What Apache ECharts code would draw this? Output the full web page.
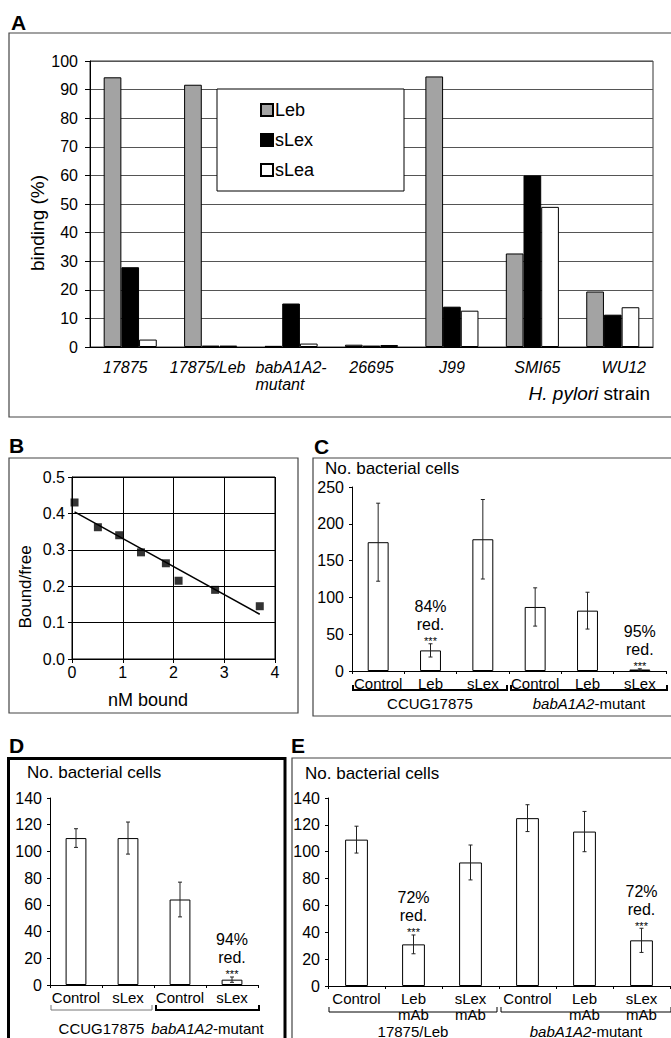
<!DOCTYPE html>
<html><head><meta charset="utf-8">
<script src="https://cdn.jsdelivr.net/npm/echarts@6/dist/echarts.min.js"></script>
<style>html,body{margin:0;padding:0;background:#fff}#c{width:671px;height:1038px}</style>
</head><body><div id="c"></div>
<script>
// ---------- Panel A data ----------
const strainsA = ['17875', '17875/Leb', 'babA1A2-\nmutant', '26695', 'J99', 'SMI65', 'WU12'];
const lebA  = [94.3, 91.7, 0.4, 0.8, 94.6, 32.7, 19.4];
const slexA = [27.9, 0.5, 15.2, 0.5, 14.1, 60.0, 11.3];
const sleaA = [2.6, 0.5, 1.2, 0.7, 12.7, 49.0, 13.9];
const ticksA = [0, 10, 20, 30, 40, 50, 60, 70, 80, 90, 100];
// ---------- Panel B data ----------
const nmBound   = [0.05, 0.51, 0.93, 1.36, 1.85, 2.10, 2.82, 3.70];
const boundFree = [0.430, 0.362, 0.340, 0.293, 0.263, 0.215, 0.190, 0.145];
const fitNm = [0.05, 3.70];
const fitBF = [0.404, 0.123];
// ---------- Panel C data ----------
const catsC = ['Control', 'Leb', 'sLex', 'Control', 'Leb', 'sLex'];
const meanC = [175, 28, 179, 87, 82, 2];
const errC  = [53, 9, 54, 26, 25, 1];
const annC  = ['', '84%\nred.', '', '', '', '95%\nred.'];
const groupsC = ['CCUG17875', 'babA1A2-mutant'];
// ---------- Panel D data ----------
const catsD = ['Control', 'sLex', 'Control', 'sLex'];
const meanD = [110, 110, 64, 4];
const errD  = [7, 12, 13, 2];
const annD  = ['', '', '', '94%\nred.'];
const groupsD = ['CCUG17875', 'babA1A2-mutant'];
// ---------- Panel E data ----------
const catsE = ['Control', 'Leb\nmAb', 'sLex\nmAb', 'Control', 'Leb\nmAb', 'sLex\nmAb'];
const meanE = [109, 31, 92, 125, 115, 34];
const errE  = [10, 7, 13, 10, 15, 9];
const annE  = ['', '72%\nred.', '', '', '', '72%\nred.'];
const groupsE = ['17875/Leb', 'babA1A2-mutant'];

const FONT = '"Liberation Sans", Arial, Helvetica, sans-serif';
const chart = echarts.init(document.getElementById('c'), null, {renderer: 'svg'});

function lbl(size, extra) { return Object.assign({color: '#000', fontFamily: FONT, fontSize: size}, extra || {}); }

function errSeries(xi, yi, mean, err, ann) {
  return {
    type: 'custom', xAxisIndex: xi, yAxisIndex: yi, z: 5,
    data: mean.map((m, i) => [i, m - err[i], m + err[i]]),
    renderItem: function (params, api) {
      const i = api.value(0);
      const top = api.coord([i, api.value(2)]);
      const bot = api.coord([i, api.value(1)]);
      const st = {stroke: '#222', lineWidth: 1};
      const ch = [
        {type: 'line', shape: {x1: top[0], y1: top[1], x2: bot[0], y2: bot[1]}, style: st},
        {type: 'line', shape: {x1: top[0] - 2, y1: top[1], x2: top[0] + 2, y2: top[1]}, style: st},
        {type: 'line', shape: {x1: bot[0] - 2, y1: bot[1], x2: bot[0] + 2, y2: bot[1]}, style: st}
      ];
      if (ann[i]) {
        ch.push({type: 'text', style: {text: ann[i], x: top[0], y: top[1] - 10, align: 'center', verticalAlign: 'bottom',
          fontSize: 16, fontFamily: FONT, lineHeight: 18, fill: '#000'}});
        ch.push({type: 'text', style: {text: '***', x: top[0], y: top[1] + 3, align: 'center', verticalAlign: 'bottom',
          fontSize: 11, fontFamily: FONT, fill: '#000'}});
      }
      return {type: 'group', children: ch};
    }
  };
}
function barSeries(xi, yi, mean) {
  return {type: 'bar', xAxisIndex: xi, yAxisIndex: yi, data: mean, barWidth: '40%',
    itemStyle: {color: '#fff', borderColor: '#000', borderWidth: 1}, silent: true};
}
function catAxis(gi, cats, fs) {
  return {type: 'category', gridIndex: gi, data: cats,
    axisLine: {lineStyle: {color: '#000', width: 1}},
    axisTick: {show: true, length: 3, lineStyle: {color: '#000'}},
    axisLabel: lbl(fs, {interval: 0, margin: 4, lineHeight: 16})};
}
function valAxis(gi, max, step) {
  return {type: 'value', gridIndex: gi, min: 0, max: max, interval: step,
    axisLine: {show: true, lineStyle: {color: '#000', width: 1}},
    axisTick: {show: true, length: 3, lineStyle: {color: '#000'}},
    splitLine: {show: false},
    axisLabel: lbl(16, {margin: 8})};
}

const richBase = {fontStyle: 'italic', fontSize: 16, fontFamily: FONT, color: '#000', lineHeight: 17};
const richA = {
  n: Object.assign({}, richBase),
  l: Object.assign({}, richBase, {align: 'left'}),
  r5: Object.assign({}, richBase, {padding: [0, 0, 0, 10]}),
  r11: Object.assign({}, richBase, {padding: [0, 0, 0, 22]}),
  m5: Object.assign({}, richBase, {padding: [0, 10, 0, 0]}),
  m3: Object.assign({}, richBase, {padding: [0, 6, 0, 0]})
};
const nudgeStyleA = ['m5', 'm3', 'l', 'n', 'n', 'r5', 'r11'];

const gridBase = {containLabel: false, outerBoundsMode: 'none'};
const option = {
  animation: false,
  backgroundColor: '#fff',
  textStyle: {fontFamily: FONT, color: '#000'},
  grid: [
    Object.assign({left: 90, right: 18, top: 61, bottom: 691, show: true, borderColor: '#333', borderWidth: 1, backgroundColor: 'transparent'}, gridBase),
    Object.assign({left: 72, right: 396, top: 477, bottom: 379, show: true, borderColor: '#000', borderWidth: 1, backgroundColor: 'transparent'}, gridBase),
    Object.assign({left: 352, right: 5, top: 487, bottom: 367}, gridBase),
    Object.assign({left: 50, right: 413, top: 798, bottom: 53}, gridBase),
    Object.assign({left: 328, right: 1, top: 798, bottom: 52}, gridBase)
  ],
  legend: {
    data: ['Leb', 'sLex', 'sLea'], orient: 'vertical', left: 255, top: 96,
    itemWidth: 12, itemHeight: 12, itemGap: 12, icon: 'rect', selectedMode: false,
    textStyle: lbl(18, {padding: [0, 0, 0, -3]}), z: 10
  },
  xAxis: [
    {type: 'category', gridIndex: 0, data: strainsA,
      axisLine: {lineStyle: {color: '#000', width: 1}}, axisTick: {show: false},
      axisLabel: {interval: 0, margin: 12, rich: richA,
        formatter: function (v, i) {
          const key = nudgeStyleA[i];
          return v.split('\n').map(s => '{' + key + '|' + s + '}').join('\n');
        }}},
    {type: 'value', gridIndex: 1, min: 0, max: 4, interval: 1,
      axisLine: {lineStyle: {color: '#000'}}, axisTick: {show: true, length: 4, lineStyle: {color: '#000'}},
      splitLine: {show: true, lineStyle: {color: '#000', width: 1}},
      axisLabel: lbl(16, {margin: 5})},
    catAxis(2, catsC, 15),
    catAxis(3, catsD, 15),
    catAxis(4, catsE, 15)
  ],
  yAxis: [
    {type: 'value', gridIndex: 0, min: ticksA[0], max: ticksA[ticksA.length - 1], interval: ticksA[1] - ticksA[0],
      axisLine: {show: true, lineStyle: {color: '#000'}}, axisTick: {show: true, length: 5, lineStyle: {color: '#000'}},
      splitLine: {show: true, lineStyle: {color: '#555', width: 1}},
      axisLabel: lbl(16, {margin: 12})},
    {type: 'value', gridIndex: 1, min: 0, max: 0.5, interval: 0.1,
      axisLine: {show: true, lineStyle: {color: '#000'}}, axisTick: {show: true, length: 4, lineStyle: {color: '#000'}},
      splitLine: {show: true, lineStyle: {color: '#000', width: 1}},
      axisLabel: lbl(16, {margin: 7, formatter: v => v.toFixed(1)})},
    valAxis(2, 250, 50),
    valAxis(3, 140, 20),
    valAxis(4, 140, 20)
  ],
  series: [
    {name: 'Leb', type: 'bar', xAxisIndex: 0, yAxisIndex: 0, data: lebA, barGap: '0%', barCategoryGap: '34%',
      itemStyle: {color: '#a3a3a3', borderColor: '#000', borderWidth: 1}},
    {name: 'sLex', type: 'bar', xAxisIndex: 0, yAxisIndex: 0, data: slexA, barGap: '0%', barCategoryGap: '34%',
      itemStyle: {color: '#000', borderColor: '#000', borderWidth: 1}},
    {name: 'sLea', type: 'bar', xAxisIndex: 0, yAxisIndex: 0, data: sleaA, barGap: '0%', barCategoryGap: '34%',
      itemStyle: {color: '#fff', borderColor: '#000', borderWidth: 1}},
    {type: 'scatter', xAxisIndex: 1, yAxisIndex: 1, data: nmBound.map((x, i) => [x, boundFree[i]]),
      symbol: 'rect', symbolSize: 8, itemStyle: {color: '#000'}, z: 4},
    {type: 'line', xAxisIndex: 1, yAxisIndex: 1, data: fitNm.map((x, i) => [x, fitBF[i]]),
      showSymbol: false, symbol: 'none', lineStyle: {color: '#000', width: 1.5}},
    barSeries(2, 2, meanC), errSeries(2, 2, meanC, errC, annC),
    barSeries(3, 3, meanD), errSeries(3, 3, meanD, errD, annD),
    barSeries(4, 4, meanE), errSeries(4, 4, meanE, errE, annE)
  ]
};
chart.setOption(option);

// ---------- decorations: frames, panel letters, titles, group brackets ----------
const g = [];
function rect(x, y, w, h, lw, col) {
  g.push({type: 'rect', z: 0, silent: true, shape: {x: x, y: y, width: w, height: h},
    style: {fill: 'none', stroke: col, lineWidth: lw}});
}
function txt(text, x, y, size, opts) {
  const o = opts || {};
  g.push({type: 'text', z: 20, silent: true, x: x, y: y, rotation: o.rot || 0,
    style: Object.assign({text: text, fontSize: size, fontFamily: FONT, fill: '#000',
      align: o.align || 'left', verticalAlign: o.va || 'middle', fontWeight: o.bold ? 'bold' : 'normal'}, o.style || {})});
}
rect(9, 33, 720, 384, 1.2, '#444');
rect(9, 458, 289, 255, 1.2, '#444');
rect(313, 458, 420, 258, 1.2, '#444');
rect(8.5, 758.5, 276.5, 320, 3, '#000');
rect(292, 758, 420, 320, 1.2, '#444');
// legend box in A
g.push({type: 'rect', z: 3, silent: true, shape: {x: 217, y: 89, width: 187, height: 102},
  style: {fill: '#fff', stroke: '#000', lineWidth: 1}});

txt('A', 11, 22, 21, {bold: true});
txt('B', 9, 445, 21, {bold: true});
txt('C', 314, 446, 21, {bold: true});
txt('D', 9, 745, 21, {bold: true});
txt('E', 291, 745, 21, {bold: true});
txt('binding (%)', 37, 223, 19, {align: 'center', rot: Math.PI / 2});
g.push({type: 'text', z: 20, silent: true, x: 650, y: 393,
  style: {text: '{i|H. pylori} strain', fontSize: 19, fontFamily: FONT, fill: '#000', align: 'right', verticalAlign: 'middle',
    rich: {i: {fontStyle: 'italic', fontSize: 19, fontFamily: FONT, fill: '#000'}}}});
txt('Bound/free', 25, 587, 17, {align: 'center', rot: Math.PI / 2});
txt('nM bound', 148, 700, 18, {align: 'center'});
txt('No. bacterial cells', 325, 468, 17);
txt('No. bacterial cells', 27, 772, 17);
txt('No. bacterial cells', 305, 773, 17);

function groupLabel(name, x, y, size) {
  let text = name;
  if (name.indexOf('babA1A2') === 0) text = '{i|babA1A2}' + name.slice(7);
  g.push({type: 'text', z: 20, silent: true, x: x, y: y,
    style: {text: text, fontSize: size, fontFamily: FONT, fill: '#000', align: 'center', verticalAlign: 'middle',
      rich: {i: {fontStyle: 'italic', fontSize: size, fontFamily: FONT, fill: '#000'}}}});
}
function brackets(ax, nCats, groups, dyLine, dyText, size, styles) {
  const p0 = chart.convertToPixel({xAxisIndex: ax}, 0);
  const p1 = chart.convertToPixel({xAxisIndex: ax}, 1);
  const bw = p1 - p0;
  const y0 = chart.convertToPixel({yAxisIndex: ax}, 0);
  const per = nCats / groups.length;
  groups.forEach((name, k) => {
    const lb = chart.convertToPixel({xAxisIndex: ax}, k * per) - bw / 2;
    const rb = chart.convertToPixel({xAxisIndex: ax}, k * per + per - 1) + bw / 2;
    const x1 = lb + (k === 0 ? 1 : 2), x2 = rb - (k === groups.length - 1 ? -1 : 2);
    const y = y0 + dyLine;
    const s = styles[k];
    g.push({type: 'polyline', z: 20, silent: true,
      shape: {points: [[x1, y - 5], [x1, y], [x2, y], [x2, y - 5]]},
      style: {fill: 'none', stroke: s.c, lineWidth: s.w}});
    groupLabel(name, (x1 + x2) / 2, y0 + dyText, size);
  });
}
brackets(2, catsC.length, groupsC, 19, 32, 15, [{c: '#000', w: 2}, {c: '#000', w: 2}]);
brackets(3, catsD.length, groupsD, 25, 43, 15, [{c: '#777', w: 1}, {c: '#000', w: 2}]);
brackets(4, catsE.length, groupsE, 26, 45, 15, [{c: '#000', w: 1}, {c: '#000', w: 1}]);

chart.setOption({graphic: {elements: g}});
</script></body></html>
